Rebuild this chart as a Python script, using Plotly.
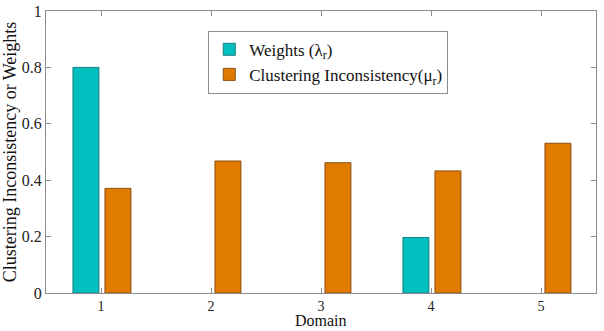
import plotly.graph_objects as go

domains = [1, 2, 3, 4, 5]
weights = [0.80, 0.0, 0.0, 0.197, 0.0]
inconsistency = [0.371, 0.468, 0.462, 0.433, 0.531]
y_ticks = [0, 0.2, 0.4, 0.6, 0.8, 1]

teal = "#00BFBF"
orange = "#E07B00"
font = "Times New Roman"

fig = go.Figure()
fig.add_trace(go.Bar(
    x=domains, y=[v if v > 0 else None for v in weights],
    name="Weights (λ<sub>r</sub>)",
    marker=dict(color=teal, line=dict(color="#1d7f80", width=1)),
    width=0.236, offset=-0.255,
))
fig.add_trace(go.Bar(
    x=domains, y=inconsistency,
    name="Clustering Inconsistency(μ<sub>r</sub>)",
    marker=dict(color=orange, line=dict(color="#8a4f10", width=1)),
    width=0.236, offset=0.036,
))

axis_common = dict(
    showgrid=False, zeroline=False, showline=True, linecolor="#8c8c8c", linewidth=1,
    mirror="ticks", ticks="inside", ticklen=5, tickcolor="#8c8c8c",
    automargin=False,
)
fig.update_layout(
    width=604, height=331,
    margin=dict(l=46, r=8, t=11, b=38),
    paper_bgcolor="white", plot_bgcolor="white",
    barmode="overlay",
    showlegend=True,
    font=dict(family=font),
    legend=dict(
        x=0.295, y=0.93, xanchor="left", yanchor="top",
        bordercolor="#8c8c8c", borderwidth=1, bgcolor="white",
        font=dict(family=font, size=17, color="#111"),
        tracegroupgap=4,
    ),
    xaxis=dict(range=[0.5, 5.5], tickvals=domains, ticktext=[str(d) for d in domains],
               tickfont=dict(family=font, size=14, color="#222"),
               **axis_common),
    yaxis=dict(range=[0, 1], tickvals=y_ticks, ticktext=["0", "0.2", "0.4", "0.6", "0.8", "1"],
               tickfont=dict(family=font, size=16, color="#222"),
               title=dict(text="Clustering Inconsistency or Weights", font=dict(family=font, size=18, color="#111"), standoff=12),
               **axis_common),
    annotations=[dict(
        text="Domain", xref="paper", yref="paper", x=0.5, y=0, yshift=-38,
        xanchor="center", yanchor="bottom", showarrow=False,
        font=dict(family=font, size=16, color="#111"),
    )],
)
fig.write_html("out.html", config={"displayModeBar": False},
               post_script="document.body.style.margin='0';")
